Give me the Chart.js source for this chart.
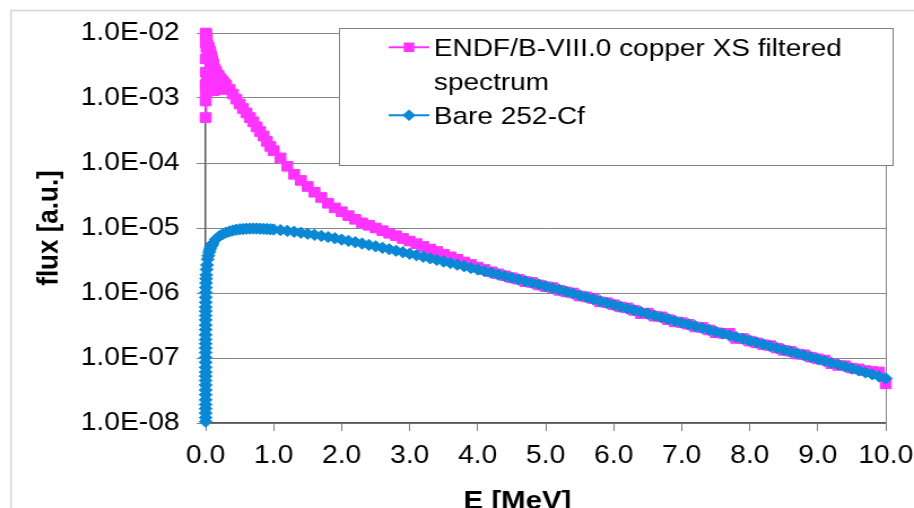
<!DOCTYPE html>
<html>
<head>
<meta charset="utf-8">
<script src="https://cdn.jsdelivr.net/npm/chart.js@4.4.1/dist/chart.umd.min.js"></script>
<style>
  html, body { margin: 0; padding: 0; background: #fff; overflow: hidden; }
  /* 描画は809px幅で行い、横方向だけ914pxに引き伸ばす */
  #wrap { position: absolute; left: 0; top: 0; width: 809px; height: 508px;
          transform: scaleX(1.1298); transform-origin: 0 0; }
  canvas { display: block; }
</style>
</head>
<body>
<div id="wrap"><canvas id="spec" width="809" height="508"></canvas></div>
<script>
// 252-Cf スペクトルと銅フィルタ後スペクトルの比較(縦軸は対数)

// ---------- データ ----------
const seriesNames = ['ENDF/B-VIII.0 copper XS filtered spectrum', 'Bare 252-Cf'];
const xTitle = 'E [MeV]';
const yTitle = 'flux [a.u.]';

// 1.1〜10 MeV は両系列共通の 0.1 MeV 刻み
const tailEnergy = [
  1.1, 1.2, 1.3, 1.4, 1.5, 1.6, 1.7, 1.8, 1.9, 2.0,
  2.1, 2.2, 2.3, 2.4, 2.5, 2.6, 2.7, 2.8, 2.9, 3.0,
  3.1, 3.2, 3.3, 3.4, 3.5, 3.6, 3.7, 3.8, 3.9, 4.0,
  4.1, 4.2, 4.3, 4.4, 4.5, 4.6, 4.7, 4.8, 4.9, 5.0,
  5.1, 5.2, 5.3, 5.4, 5.5, 5.6, 5.7, 5.8, 5.9, 6.0,
  6.1, 6.2, 6.3, 6.4, 6.5, 6.6, 6.7, 6.8, 6.9, 7.0,
  7.1, 7.2, 7.3, 7.4, 7.5, 7.6, 7.7, 7.8, 7.9, 8.0,
  8.1, 8.2, 8.3, 8.4, 8.5, 8.6, 8.7, 8.8, 8.9, 9.0,
  9.1, 9.2, 9.3, 9.4, 9.5, 9.6, 9.7, 9.8, 9.9, 10.0
];

// Bare 252-Cf (低エネルギー側は細かい刻み)
const cfHeadEnergy = [
  3e-7, 4e-7, 5.5e-7, 7.5e-7, 1e-6, 1.4e-6, 2e-6, 2.8e-6, 4e-6, 5.5e-6,
  7.5e-6, 1e-5, 1.4e-5, 2e-5, 2.8e-5, 4e-5, 5.5e-5, 7.5e-5, 1e-4, 1.4e-4,
  2e-4, 2.8e-4, 4e-4, 5.5e-4, 7.5e-4, 0.001, 0.0014, 0.002, 0.0028, 0.004,
  0.0055, 0.0075, 0.01, 0.015, 0.02, 0.03, 0.04, 0.05, 0.06, 0.07,
  0.08, 0.09, 0.1, 0.15, 0.2, 0.25, 0.3, 0.35, 0.4, 0.45,
  0.5, 0.55, 0.6, 0.65, 0.7, 0.75, 0.8, 0.85, 0.9, 0.95,
  1.0
];
const cfFlux = [
  1.05e-8, 1.21e-8, 1.42e-8, 1.66e-8, 1.92e-8, 2.27e-8, 2.72e-8, 3.21e-8, 3.84e-8, 4.5e-8,
  5.26e-8, 6.07e-8, 7.18e-8, 8.59e-8, 1.02e-7, 1.21e-7, 1.42e-7, 1.66e-7, 1.92e-7, 2.27e-7,
  2.72e-7, 3.21e-7, 3.84e-7, 4.5e-7, 5.26e-7, 6.07e-7, 7.18e-7, 8.59e-7, 1.02e-6, 1.21e-6,
  1.42e-6, 1.66e-6, 1.9e-6, 2.3e-6, 2.7e-6, 3.3e-6, 3.75e-6, 4.2e-6, 4.55e-6, 4.9e-6,
  5.2e-6, 5.45e-6, 5.7e-6, 6.7e-6, 7.45e-6, 8.05e-6, 8.5e-6, 8.85e-6, 9.15e-6, 9.4e-6,
  9.55e-6, 9.65e-6, 9.75e-6, 9.8e-6, 9.8e-6, 9.8e-6, 9.75e-6, 9.7e-6, 9.65e-6, 9.55e-6,
  9.48e-6,
  // 1.1〜
  9.27e-6, 9.03e-6, 8.76e-6, 8.47e-6, 8.17e-6, 7.86e-6, 7.55e-6, 7.25e-6, 6.94e-6, 6.63e-6,
  6.34e-6, 6.05e-6, 5.76e-6, 5.49e-6, 5.22e-6, 4.96e-6, 4.71e-6, 4.47e-6, 4.24e-6, 4.02e-6,
  3.81e-6, 3.61e-6, 3.41e-6, 3.23e-6, 3.05e-6, 2.89e-6, 2.73e-6, 2.58e-6, 2.43e-6, 2.30e-6,
  2.17e-6, 2.04e-6, 1.93e-6, 1.82e-6, 1.71e-6, 1.61e-6, 1.52e-6, 1.43e-6, 1.35e-6, 1.27e-6,
  1.19e-6, 1.12e-6, 1.05e-6, 9.8e-7, 9.2e-7, 8.6e-7, 8.0e-7, 7.5e-7, 7.0e-7, 6.55e-7,
  6.15e-7, 5.77e-7, 5.42e-7, 5.09e-7, 4.79e-7, 4.49e-7, 4.22e-7, 3.96e-7, 3.71e-7, 3.49e-7,
  3.28e-7, 3.08e-7, 2.89e-7, 2.71e-7, 2.54e-7, 2.38e-7, 2.23e-7, 2.10e-7, 1.97e-7, 1.84e-7,
  1.73e-7, 1.62e-7, 1.52e-7, 1.42e-7, 1.33e-7, 1.25e-7, 1.17e-7, 1.10e-7, 1.03e-7, 9.6e-8,
  9.0e-8, 8.4e-8, 7.9e-8, 7.4e-8, 6.9e-8, 6.45e-8, 6.0e-8, 5.6e-8, 5.2e-8, 4.85e-8
];

// 銅フィルタ後 (0.3 MeV 以下は共鳴でばらつく)
const cuHeadEnergy = [
  0.0005, 0.001, 0.0015, 0.002, 0.003, 0.004, 0.005, 0.006, 0.007, 0.008,
  0.01, 0.012, 0.014, 0.016, 0.018, 0.02, 0.025, 0.03, 0.035, 0.04,
  0.045, 0.05, 0.055, 0.06, 0.065, 0.07, 0.075, 0.08, 0.085, 0.09,
  0.095, 0.1, 0.11, 0.12, 0.13, 0.14, 0.15, 0.16, 0.17, 0.18,
  0.19, 0.2, 0.21, 0.22, 0.23, 0.24, 0.25, 0.26, 0.27, 0.28,
  0.29, 0.3, 0.35, 0.4, 0.45, 0.5, 0.55, 0.6, 0.65, 0.7,
  0.75, 0.8, 0.85, 0.9, 0.95, 1.0
];
const cuFlux = [
  5.0e-4, 9.0e-4, 1.6e-3, 4.0e-3, 1.0e-2, 2.5e-3, 9.0e-3, 1.6e-3, 7.0e-3, 1.3e-3,
  9.5e-3, 1.5e-3, 6.0e-3, 1.25e-3, 8.0e-3, 2.0e-3, 6.5e-3, 1.3e-3, 5.5e-3, 1.4e-3,
  6.0e-3, 1.3e-3, 5.0e-3, 1.5e-3, 5.2e-3, 1.3e-3, 4.5e-3, 1.4e-3, 4.3e-3, 1.3e-3,
  3.8e-3, 1.4e-3, 3.4e-3, 1.3e-3, 2.8e-3, 1.35e-3, 2.6e-3, 1.4e-3, 2.3e-3, 1.35e-3,
  2.2e-3, 1.4e-3, 2.0e-3, 1.45e-3, 1.9e-3, 1.45e-3, 1.8e-3, 1.5e-3, 1.7e-3, 1.5e-3,
  1.6e-3, 1.55e-3, 1.35e-3, 1.15e-3, 9.6e-4, 8.1e-4, 6.9e-4, 5.9e-4, 5.0e-4, 4.3e-4,
  3.6e-4, 3.05e-4, 2.6e-4, 2.15e-4, 1.8e-4, 1.55e-4,
  // 1.1〜
  1.2e-4, 8.9e-5, 6.7e-5, 5.4e-5, 4.35e-5, 3.55e-5, 2.95e-5, 2.4e-5, 2.04e-5, 1.78e-5,
  1.55e-5, 1.36e-5, 1.2e-5, 1.1e-5, 1.0e-5, 9.1e-6, 8.3e-6, 7.6e-6, 6.9e-6, 6.3e-6,
  5.75e-6, 5.2e-6, 4.75e-6, 4.35e-6, 3.95e-6, 3.6e-6, 3.3e-6, 3.0e-6, 2.75e-6, 2.5e-6,
  2.3e-6, 2.12e-6, 1.97e-6, 1.84e-6, 1.72e-6, 1.63e-6, 1.50e-6, 1.45e-6, 1.33e-6, 1.25e-6,
  1.21e-6, 1.10e-6, 1.04e-6, 1.0e-6, 9.0e-7, 8.7e-7, 8.2e-7, 7.3e-7, 7.1e-7, 6.6e-7,
  6.1e-7, 5.9e-7, 5.4e-7, 4.8e-7, 4.9e-7, 4.4e-7, 4.3e-7, 3.9e-7, 3.6e-7, 3.5e-7,
  3.3e-7, 3.0e-7, 2.95e-7, 2.7e-7, 2.45e-7, 2.4e-7, 2.4e-7, 2.0e-7, 1.99e-7, 1.82e-7,
  1.71e-7, 1.6e-7, 1.55e-7, 1.42e-7, 1.31e-7, 1.27e-7, 1.15e-7, 1.12e-7, 1.03e-7, 9.7e-8,
  9.3e-8, 8.2e-8, 7.7e-8, 7.6e-8, 7.0e-8, 6.8e-8, 6.4e-8, 6.2e-8, 6.1e-8, 4.0e-8
];

// 目盛り
const energyTicks = [0, 1, 2, 3, 4, 5, 6, 7, 8, 9, 10];
const energyTickLabels = ['0.0', '1.0', '2.0', '3.0', '4.0', '5.0', '6.0', '7.0', '8.0', '9.0', '10.0'];
const fluxTicks = [1e-8, 1e-7, 1e-6, 1e-5, 1e-4, 1e-3, 1e-2];
const fluxTickLabels = ['1.0E-08', '1.0E-07', '1.0E-06', '1.0E-05', '1.0E-04', '1.0E-03', '1.0E-02'];

// ---------- 見た目 ----------
const FONT = "'Liberation Sans', Arial, sans-serif";
const CU_COLOR = '#ff33ff';
const CF_COLOR = '#0a88d6';

const toPoints = (xs, ys) => xs.map((x, i) => ({ x, y: ys[i] }));

// 枠・プロット右端の線
const framePlugin = {
  id: 'frame',
  beforeDraw(chart) {
    const ctx = chart.ctx;
    ctx.save();
    ctx.fillStyle = '#fff';
    ctx.fillRect(0, 0, chart.width, chart.height);
    ctx.strokeStyle = '#d6d6d6';
    ctx.lineWidth = 1.5;
    ctx.beginPath();
    ctx.moveTo(9.7, chart.height); ctx.lineTo(9.7, 10.5); ctx.lineTo(chart.width, 10.5);
    ctx.stroke();
    ctx.restore();
  },
  beforeDatasetsDraw(chart) {
    const a = chart.chartArea, ctx = chart.ctx;
    ctx.save();
    ctx.strokeStyle = '#868686';
    ctx.lineWidth = 1;
    ctx.beginPath(); ctx.moveTo(a.right + 0.5, a.top); ctx.lineTo(a.right + 0.5, a.bottom); ctx.stroke();
    ctx.restore();
  }
};

// 凡例(折り返しあり)と軸タイトル
const legendPlugin = {
  id: 'boxLegend',
  afterDraw(chart) {
    const ctx = chart.ctx;
    const box = { left: 300, top: 28, right: 790, bottom: 165 };
    ctx.save();
    ctx.fillStyle = '#fff';
    ctx.fillRect(box.left, box.top, box.right - box.left, box.bottom - box.top);
    ctx.strokeStyle = '#7f7f7f';
    ctx.lineWidth = 1;
    ctx.strokeRect(box.left + 0.5, box.top + 0.5, box.right - box.left, box.bottom - box.top);

    ctx.font = '24.8px ' + FONT;
    ctx.fillStyle = '#000';
    ctx.textAlign = 'left';
    ctx.textBaseline = 'alphabetic';
    const textX = 384, maxW = box.right - textX - 8;
    let baseline = 56;
    // 凡例は系列の並び順 (銅フィルタ → Bare)
    const order = [1, 0];
    for (const di of order) {
      const ds = chart.data.datasets[di];
      // 単語単位で折り返す
      const lines = [];
      let cur = '';
      for (const w of ds.label.split(' ')) {
        const t = cur ? cur + ' ' + w : w;
        if (ctx.measureText(t).width > maxW && cur) { lines.push(cur); cur = w; }
        else cur = t;
      }
      lines.push(cur);

      const my = baseline - 8.8;
      ctx.strokeStyle = ds.borderColor;
      ctx.lineWidth = 2;
      ctx.beginPath(); ctx.moveTo(344, my); ctx.lineTo(380, my); ctx.stroke();
      ctx.fillStyle = ds.borderColor;
      Chart.helpers.drawPoint(ctx, {
        pointStyle: ds.pointStyle, radius: ds.pointStyle === 'rect' ? 5.2 : 4.4,
        rotation: 0, borderWidth: 1
      }, 362, my);

      ctx.fillStyle = '#000';
      for (const ln of lines) { ctx.fillText(ln, textX, baseline); baseline += 34; }
    }

    // 軸タイトル
    ctx.font = 'bold 26px ' + FONT;
    ctx.textAlign = 'center';
    ctx.fillText(xTitle, 458, 508.5);
    ctx.translate(43.5, 228);
    ctx.rotate(-Math.PI / 2);
    ctx.textBaseline = 'middle';
    ctx.fillText(yTitle, 0, 0);
    ctx.restore();
  }
};

const tickFont = { family: FONT, size: 25 };

new Chart(document.getElementById('spec').getContext('2d'), {
  type: 'line',
  data: {
    datasets: [
      {
        // Bare を上に描く
        label: seriesNames[1],
        data: toPoints(cfHeadEnergy.concat(tailEnergy), cfFlux),
        borderColor: CF_COLOR, backgroundColor: CF_COLOR,
        borderWidth: 2, pointStyle: 'rectRot', pointRadius: 5.7,
        pointBorderWidth: 1, pointBackgroundColor: CF_COLOR, pointBorderColor: CF_COLOR,
        tension: 0, clip: false
      },
      {
        label: seriesNames[0],
        data: toPoints(cuHeadEnergy.concat(tailEnergy), cuFlux),
        borderColor: CU_COLOR, backgroundColor: CU_COLOR,
        borderWidth: 2, pointStyle: 'rect', pointRadius: 6.8,
        pointBorderWidth: 1, pointBackgroundColor: CU_COLOR, pointBorderColor: CU_COLOR,
        tension: 0, clip: false
      }
    ]
  },
  plugins: [framePlugin, legendPlugin],
  options: {
    responsive: false,
    devicePixelRatio: 1,
    animation: false,
    events: [],
    layout: { padding: { left: 0, top: 33, right: 25, bottom: 0 } },
    scales: {
      x: {
        type: 'linear', min: 0, max: 10,
        afterBuildTicks: (s) => { s.ticks = energyTicks.map((v) => ({ value: v })); },
        // 右端ラベルのはみ出し分は余白で確保済み
        afterFit: (s) => { s.height = 85; s.paddingLeft = 0; s.paddingRight = 0; },
        ticks: {
          font: tickFont, color: '#000', padding: 10, maxRotation: 0, autoSkip: false,
          callback: (v, i) => energyTickLabels[i]
        },
        grid: { drawOnChartArea: false, drawTicks: true, tickLength: 8, color: '#808080' },
        border: { color: '#595959', width: 1.5 }
      },
      y: {
        type: 'logarithmic', min: 1e-8, max: 1e-2,
        afterBuildTicks: (s) => { s.ticks = fluxTicks.map((v) => ({ value: v })); },
        afterFit: (s) => { s.width = 182; },
        ticks: {
          font: tickFont, color: '#000', padding: 15, autoSkip: false,
          callback: (v, i) => fluxTickLabels[i]
        },
        grid: { color: '#868686', lineWidth: 1, tickLength: 8 },
        border: { color: '#595959', width: 1.5 }
      }
    },
    plugins: {
      legend: { display: false },
      tooltip: { enabled: false }
    }
  }
});
</script>
</body>
</html>
